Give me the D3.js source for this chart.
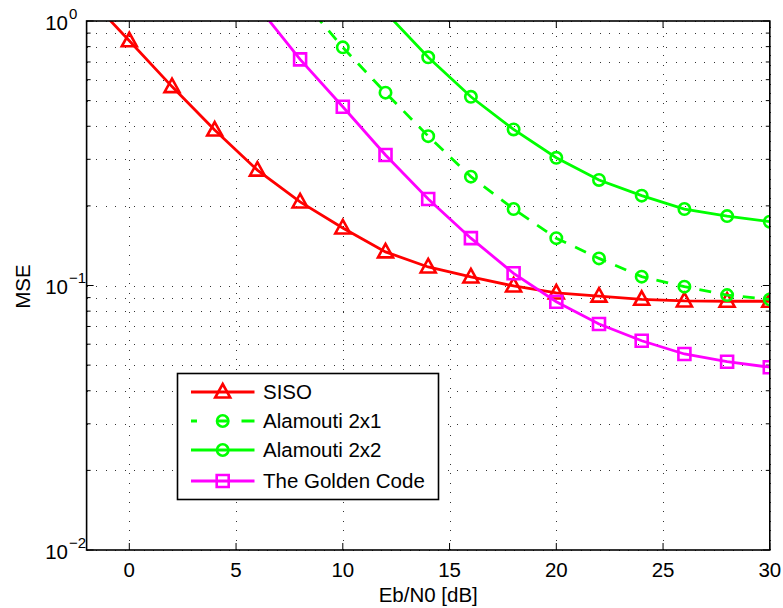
<!DOCTYPE html>
<html>
<head>
<meta charset="utf-8">
<script src="https://cdn.jsdelivr.net/npm/d3@7"></script>
<style>
  body { margin: 0; background: #fff; }
  svg { display: block; font-family: "Liberation Sans", Arial, sans-serif; }
</style>
</head>
<body>
<div id="chart"></div>
<script>
// Eb/N0 points (dB) and MSE per scheme
const snrSiso    = [-2, 0, 2, 4, 6, 8, 10, 12, 14, 16, 18, 20, 22, 24, 26, 28, 30];
const mseSiso    = [1.25, 0.842, 0.565, 0.387, 0.273, 0.207, 0.165, 0.134, 0.1175, 0.1077, 0.0996, 0.0937, 0.0912, 0.0887, 0.0874, 0.0872, 0.0872];
const snrAla21   = [8, 10, 12, 14, 16, 18, 20, 22, 24, 26, 28, 30];
const mseAla21   = [1.23, 0.795, 0.536, 0.367, 0.258, 0.1946, 0.151, 0.1266, 0.108, 0.099, 0.092, 0.0886];
const snrAla22   = [12, 14, 16, 18, 20, 22, 24, 26, 28, 30];
const mseAla22   = [1.08, 0.729, 0.517, 0.389, 0.304, 0.2506, 0.2186, 0.1946, 0.183, 0.1743];
const snrGolden  = [6, 8, 10, 12, 14, 16, 18, 20, 22, 24, 26, 28, 30];
const mseGolden  = [1.14, 0.716, 0.474, 0.3114, 0.2124, 0.151, 0.1112, 0.0868, 0.0715, 0.0618, 0.0551, 0.0515, 0.0491];

const xTicks = [0, 5, 10, 15, 20, 25, 30];
const yMajor = [0.01, 0.1, 1];
const yExp   = ["−2", "−1", "0"];

const series = [
  {name: "SISO",            x: snrSiso,   y: mseSiso,   color: "#ff0000", marker: "triangle", dash: null},
  {name: "Alamouti 2x1",    x: snrAla21,  y: mseAla21,  color: "#00ff00", marker: "circle",   dash: "12,10"},
  {name: "Alamouti 2x2",    x: snrAla22,  y: mseAla22,  color: "#00ff00", marker: "circle",   dash: null},
  {name: "The Golden Code", x: snrGolden, y: mseGolden, color: "#ff00ff", marker: "square",   dash: null}
];

const W = 783, H = 608;
const pLeft = 86.6, pRight = 769.8, pTop = 21, pBottom = 550;

const x = d3.scaleLinear().domain([-2, 30]).range([pLeft, pRight]);
const y = d3.scaleLog().domain([0.01, 1]).range([pBottom, pTop]);

const svg = d3.select("#chart").append("svg")
  .attr("width", W).attr("height", H);

svg.append("defs").append("clipPath").attr("id", "plotClip")
  .append("rect").attr("x", pLeft).attr("y", pTop)
  .attr("width", pRight - pLeft).attr("height", pBottom - pTop);

// all log ticks 1..9 per decade
const yAll = [];
[0.01, 0.1].forEach(d => { for (let k = 1; k <= 9; k++) yAll.push(d * k); });
yAll.push(1);
const isMajor = v => yMajor.some(m => Math.abs(m - v) < 1e-9);

// grid
const grid = svg.append("g").attr("stroke", "#333").attr("stroke-width", 1)
  .attr("stroke-dasharray", "1,8.5").attr("shape-rendering", "crispEdges");
xTicks.forEach(t => {
  const px = Math.round(x(t)) + 0.5;
  grid.append("line").attr("x1", px).attr("x2", px).attr("y1", pBottom).attr("y2", pTop);
});
yAll.forEach(t => {
  const py = Math.round(y(t)) + 0.5;
  grid.append("line").attr("x1", pLeft).attr("x2", pRight).attr("y1", py).attr("y2", py);
});

// ticks inside the box
const ticks = svg.append("g").attr("stroke", "#000").attr("stroke-width", 1);
xTicks.forEach(t => {
  const px = x(t);
  ticks.append("line").attr("x1", px).attr("x2", px).attr("y1", pBottom).attr("y2", pBottom - 7);
  ticks.append("line").attr("x1", px).attr("x2", px).attr("y1", pTop).attr("y2", pTop + 7);
});
yAll.forEach(t => {
  const py = y(t);
  const len = isMajor(t) ? 7 : 4;
  ticks.append("line").attr("x1", pLeft).attr("x2", pLeft + len).attr("y1", py).attr("y2", py);
  ticks.append("line").attr("x1", pRight).attr("x2", pRight - len).attr("y1", py).attr("y2", py);
});

// curves
const markerPath = {
  triangle: "M0,-8L7.5,5.5L-7.5,5.5Z",
  circle: d3.symbol().type(d3.symbolCircle).size(Math.PI * 5.7 * 5.7)(),
  square: "M-6,-6H6V6H-6Z"
};

const plot = svg.append("g").attr("clip-path", "url(#plotClip)");
const line = d3.line().x(d => x(d[0])).y(d => y(d[1]));

series.forEach(s => {
  const pts = s.x.map((v, i) => [v, s.y[i]]);
  plot.append("path").datum(pts)
    .attr("d", line)
    .attr("fill", "none")
    .attr("stroke", s.color)
    .attr("stroke-width", 2.8)
    .attr("stroke-dasharray", s.dash);
  plot.selectAll(null).data(pts).enter().append("path")
    .attr("d", markerPath[s.marker])
    .attr("transform", d => "translate(" + x(d[0]) + "," + y(d[1]) + ")")
    .attr("fill", "none")
    .attr("stroke", s.color)
    .attr("stroke-width", 2.6);
});

// box
svg.append("rect").attr("x", pLeft).attr("y", pTop)
  .attr("width", pRight - pLeft).attr("height", pBottom - pTop)
  .attr("fill", "none").attr("stroke", "#000").attr("stroke-width", 1.6);

// tick labels
const labels = svg.append("g").attr("font-size", 20.5).attr("fill", "#000");
xTicks.forEach(t => {
  labels.append("text").attr("x", x(t)).attr("y", 577)
    .attr("text-anchor", "middle").text(t);
});
yMajor.forEach((t, i) => {
  const py = y(t) + 8.5;
  labels.append("text").attr("x", 68).attr("y", py)
    .attr("text-anchor", "end").text("10");
  labels.append("text").attr("x", 69).attr("y", py - 11)
    .attr("font-size", 15).text(yExp[i]);
});

// axis titles
svg.append("text").attr("x", (pLeft + pRight) / 2).attr("y", 602)
  .attr("text-anchor", "middle").attr("font-size", 20.5).text("Eb/N0 [dB]");
svg.append("text").attr("transform", "translate(30,286.5) rotate(-90)")
  .attr("text-anchor", "middle").attr("font-size", 20.5).text("MSE");

// legend
const leg = svg.append("g");
leg.append("rect").attr("x", 177.5).attr("y", 373.5).attr("width", 261).attr("height", 126)
  .attr("fill", "#fff").attr("stroke", "#000").attr("stroke-width", 1.6);
const rowY = [392, 421, 450, 481];
const legDash = {"Alamouti 2x1": "6,19.5,12,13,13"};
series.forEach((s, i) => {
  const ry = rowY[i];
  leg.append("line").attr("x1", 191).attr("x2", 254.5).attr("y1", ry).attr("y2", ry)
    .attr("stroke", s.color).attr("stroke-width", 2.8)
    .attr("stroke-dasharray", legDash[s.name] || null);
  leg.append("path").attr("d", markerPath[s.marker])
    .attr("transform", "translate(222.7," + ry + ")")
    .attr("fill", "none").attr("stroke", s.color).attr("stroke-width", 2.6);
  leg.append("text").attr("x", 263).attr("y", ry).attr("dy", "0.35em")
    .attr("font-size", 20.5).text(s.name);
});
</script>
</body>
</html>
